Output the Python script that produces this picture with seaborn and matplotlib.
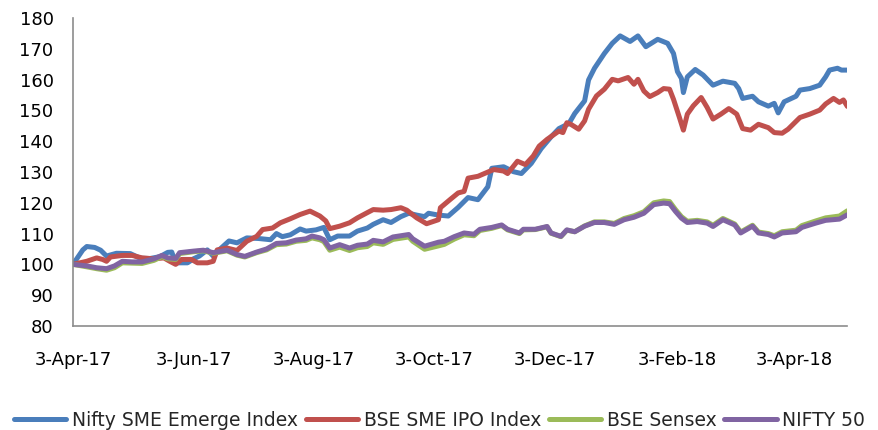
import pandas as pd
import seaborn as sns
import matplotlib.pyplot as plt
from matplotlib.lines import Line2D

series_names = ["Nifty SME Emerge Index", "BSE SME IPO Index", "BSE Sensex", "NIFTY 50"]
series_colors = ["#4A7EBB", "#C0504D", "#9BBB59", "#8064A2"]

tick_labels = ["3-Apr-17", "3-Jun-17", "3-Aug-17", "3-Oct-17", "3-Dec-17", "3-Feb-18", "3-Apr-18"]

sme_dates = ["3-Apr-17", "8-Apr-17", "10-Apr-17", "14-Apr-17", "17-Apr-17", "20-Apr-17", "25-Apr-17",
             "2-May-17", "7-May-17", "12-May-17", "17-May-17", "21-May-17", "23-May-17", "25-May-17",
             "31-May-17", "3-Jun-17", "6-Jun-17", "10-Jun-17", "13-Jun-17", "16-Jun-17", "21-Jun-17",
             "25-Jun-17", "30-Jun-17", "6-Jul-17", "12-Jul-17", "15-Jul-17", "18-Jul-17", "22-Jul-17",
             "27-Jul-17", "30-Jul-17", "4-Aug-17", "8-Aug-17", "11-Aug-17", "15-Aug-17", "21-Aug-17",
             "25-Aug-17", "30-Aug-17", "2-Sep-17", "7-Sep-17", "11-Sep-17", "16-Sep-17", "20-Sep-17",
             "24-Sep-17", "28-Sep-17", "30-Sep-17", "5-Oct-17", "10-Oct-17", "15-Oct-17", "20-Oct-17",
             "25-Oct-17", "30-Oct-17", "1-Nov-17", "7-Nov-17", "12-Nov-17", "16-Nov-17", "21-Nov-17",
             "26-Nov-17", "1-Dec-17", "5-Dec-17", "10-Dec-17", "13-Dec-17", "18-Dec-17", "20-Dec-17",
             "23-Dec-17", "28-Dec-17", "1-Jan-18", "5-Jan-18", "10-Jan-18", "14-Jan-18", "18-Jan-18",
             "24-Jan-18", "29-Jan-18", "1-Feb-18", "3-Feb-18", "5-Feb-18", "6-Feb-18", "8-Feb-18",
             "12-Feb-18", "16-Feb-18", "21-Feb-18", "26-Feb-18", "4-Mar-18", "6-Mar-18", "8-Mar-18",
             "13-Mar-18", "16-Mar-18", "21-Mar-18", "24-Mar-18", "26-Mar-18", "29-Mar-18", "4-Apr-18",
             "6-Apr-18", "11-Apr-18", "16-Apr-18", "19-Apr-18", "21-Apr-18", "25-Apr-18", "27-Apr-18",
             "30-Apr-18"]
sme_values = [100, 104.7, 105.8, 105.5, 104.6, 102.7, 103.6,
              103.5, 102.0, 101.9, 102.5, 103.9, 104.0, 100.5,
              100.5, 101.8, 102.7, 104.7, 102.7, 104.7, 107.6,
              107.0, 108.6, 108.4, 108.0, 110.0, 109.0, 109.6,
              111.5, 110.8, 111.2, 112.0, 108.0, 109.2, 109.2,
              110.8, 111.8, 113.0, 114.5, 113.6, 115.5, 116.6,
              116.0, 115.5, 116.6, 116.0, 115.7, 118.5, 121.7,
              121.0, 125.2, 131.2, 131.7, 130.1, 129.5, 132.8,
              137.6, 141.4, 144.1, 145.7, 149.0, 153.1, 159.9,
              163.7, 168.5, 171.8, 174.2, 172.4, 174.2, 170.7,
              173.1, 171.8, 168.5, 162.6, 160.4, 155.8, 160.9,
              163.3, 161.5, 158.2, 159.5, 158.8, 157.1, 153.9,
              154.6, 152.8, 151.4, 152.3, 149.2, 152.8, 154.6,
              156.6, 157.1, 158.2, 160.9, 163.1, 163.7, 163.1,
              163.1]

ipo_dates = ["3-Apr-17", "10-Apr-17", "15-Apr-17", "18-Apr-17", "20-Apr-17", "22-Apr-17", "28-Apr-17",
             "3-May-17", "8-May-17", "14-May-17", "19-May-17", "22-May-17", "25-May-17", "28-May-17",
             "2-Jun-17", "5-Jun-17", "10-Jun-17", "13-Jun-17", "15-Jun-17", "20-Jun-17", "25-Jun-17",
             "30-Jun-17", "5-Jul-17", "8-Jul-17", "13-Jul-17", "17-Jul-17", "22-Jul-17", "27-Jul-17",
             "1-Aug-17", "6-Aug-17", "9-Aug-17", "11-Aug-17", "16-Aug-17", "21-Aug-17", "25-Aug-17",
             "30-Aug-17", "2-Sep-17", "7-Sep-17", "11-Sep-17", "16-Sep-17", "19-Sep-17", "24-Sep-17",
             "29-Sep-17", "5-Oct-17", "6-Oct-17", "11-Oct-17", "15-Oct-17", "18-Oct-17", "20-Oct-17",
             "25-Oct-17", "29-Oct-17", "2-Nov-17", "7-Nov-17", "9-Nov-17", "14-Nov-17", "18-Nov-17",
             "22-Nov-17", "25-Nov-17", "29-Nov-17", "5-Dec-17", "7-Dec-17", "9-Dec-17", "11-Dec-17",
             "15-Dec-17", "18-Dec-17", "20-Dec-17", "24-Dec-17", "28-Dec-17", "1-Jan-18", "4-Jan-18",
             "9-Jan-18", "12-Jan-18", "14-Jan-18", "17-Jan-18", "20-Jan-18", "24-Jan-18", "27-Jan-18",
             "30-Jan-18", "1-Feb-18", "4-Feb-18", "6-Feb-18", "8-Feb-18", "11-Feb-18", "15-Feb-18",
             "18-Feb-18", "21-Feb-18", "25-Feb-18", "1-Mar-18", "5-Mar-18", "8-Mar-18", "12-Mar-18",
             "16-Mar-18", "21-Mar-18", "24-Mar-18", "28-Mar-18", "31-Mar-18", "6-Apr-18", "11-Apr-18",
             "16-Apr-18", "19-Apr-18", "23-Apr-18", "26-Apr-18", "28-Apr-18", "30-Apr-18"]
ipo_values = [100, 101.0, 102.1, 101.6, 101.0, 102.4, 102.9,
              102.9, 102.1, 101.8, 102.1, 101.0, 100.0, 101.6,
              101.6, 100.5, 100.5, 101.0, 104.7, 105.3, 104.5,
              107.5, 109.1, 111.3, 111.8, 113.5, 114.8, 116.2,
              117.3, 115.7, 114.1, 111.6, 112.4, 113.5, 115.1,
              116.8, 117.8, 117.6, 117.8, 118.4, 117.6, 115.1,
              113.2, 114.5, 118.4, 121.1, 123.2, 123.7, 128.0,
              128.6, 129.7, 130.8, 130.3, 129.5, 133.5, 132.4,
              135.2, 138.4, 140.6, 143.3, 142.8, 146.0, 145.5,
              143.9, 146.6, 150.4, 154.7, 156.9, 160.1, 159.6,
              160.7, 158.5, 160.1, 156.3, 154.5, 155.8, 157.1,
              156.9, 153.6, 147.7, 143.6, 148.8, 151.5, 154.2,
              151.0, 147.2, 148.8, 150.6, 148.8, 144.1, 143.6,
              145.5, 144.4, 142.8, 142.6, 143.9, 147.7, 148.8,
              150.1, 152.1, 153.9, 152.6, 153.4, 151.3]

# Sensex and Nifty 50 are read on the same dates
large_dates = ["3-Apr-17", "10-Apr-17", "15-Apr-17", "20-Apr-17", "24-Apr-17", "28-Apr-17", "3-May-17",
               "8-May-17", "14-May-17", "18-May-17", "21-May-17", "25-May-17", "27-May-17", "3-Jun-17",
               "8-Jun-17", "13-Jun-17", "20-Jun-17", "25-Jun-17", "29-Jun-17", "5-Jul-17", "10-Jul-17",
               "15-Jul-17", "20-Jul-17", "25-Jul-17", "30-Jul-17", "2-Aug-17", "6-Aug-17", "8-Aug-17",
               "11-Aug-17", "16-Aug-17", "21-Aug-17", "25-Aug-17", "30-Aug-17", "2-Sep-17", "7-Sep-17",
               "12-Sep-17", "20-Sep-17", "22-Sep-17", "28-Sep-17", "5-Oct-17", "8-Oct-17", "13-Oct-17",
               "18-Oct-17", "23-Oct-17", "26-Oct-17", "1-Nov-17", "6-Nov-17", "9-Nov-17", "15-Nov-17",
               "17-Nov-17", "23-Nov-17", "29-Nov-17", "1-Dec-17", "6-Dec-17", "9-Dec-17", "13-Dec-17",
               "18-Dec-17", "23-Dec-17", "28-Dec-17", "2-Jan-18", "7-Jan-18", "12-Jan-18", "17-Jan-18",
               "22-Jan-18", "27-Jan-18", "30-Jan-18", "2-Feb-18", "5-Feb-18", "8-Feb-18", "13-Feb-18",
               "18-Feb-18", "21-Feb-18", "26-Feb-18", "4-Mar-18", "7-Mar-18", "13-Mar-18", "16-Mar-18",
               "21-Mar-18", "24-Mar-18", "28-Mar-18", "4-Apr-18", "7-Apr-18", "14-Apr-18", "19-Apr-18",
               "26-Apr-18", "30-Apr-18"]
sensex_values = [100, 99.2, 98.6, 98.1, 98.9, 100.5, 100.4,
                 100.3, 101.3, 102.5, 101.8, 101.6, 103.5, 104.1,
                 104.4, 103.6, 104.4, 103.0, 102.4, 103.8, 104.7,
                 106.4, 106.6, 107.5, 107.8, 108.6, 108.0, 107.4,
                 104.6, 105.6, 104.5, 105.4, 105.8, 107.0, 106.5,
                 108.1, 108.9, 107.5, 104.9, 106.0, 106.5, 108.2,
                 109.6, 109.3, 111.0, 111.7, 112.6, 111.2, 110.0,
                 111.2, 111.3, 112.2, 110.1, 109.0, 111.1, 110.6,
                 112.5, 113.8, 113.8, 113.3, 114.9, 115.8, 117.1,
                 120.0, 120.6, 120.4, 117.8, 115.5, 114.0, 114.3,
                 113.8, 112.7, 114.9, 113.1, 110.5, 112.7, 110.5,
                 110.0, 109.3, 110.6, 111.1, 112.6, 114.1, 115.1,
                 115.7, 117.4]
nifty_values = [100, 99.5, 98.9, 98.6, 99.5, 101.0, 100.8,
                100.8, 101.8, 102.9, 102.1, 101.9, 103.8, 104.3,
                104.6, 103.8, 104.6, 103.2, 102.6, 104.0, 105.0,
                106.8, 107.0, 107.9, 108.3, 109.2, 108.6, 108.0,
                105.3, 106.4, 105.3, 106.2, 106.6, 107.8, 107.3,
                108.9, 109.7, 108.3, 105.9, 107.2, 107.5, 109.0,
                110.2, 109.8, 111.4, 112.0, 112.8, 111.4, 110.2,
                111.4, 111.4, 112.3, 110.2, 109.1, 111.2, 110.6,
                112.4, 113.6, 113.6, 113.0, 114.5, 115.3, 116.6,
                119.4, 119.9, 119.7, 117.2, 115.0, 113.6, 113.9,
                113.4, 112.3, 114.5, 112.8, 110.2, 112.4, 110.2,
                109.7, 108.9, 110.2, 110.6, 112.0, 113.4, 114.3,
                114.7, 116.1]


def build_frame():
    parts = [
        (series_names[0], sme_dates, sme_values),
        (series_names[1], ipo_dates, ipo_values),
        (series_names[2], large_dates, sensex_values),
        (series_names[3], large_dates, nifty_values),
    ]
    frames = []
    for name, dates, values in parts:
        frames.append(pd.DataFrame({
            "date": pd.to_datetime(dates, format="%d-%b-%y"),
            "value": values,
            "series": name,
        }))
    return pd.concat(frames, ignore_index=True)


df = build_frame()

sns.set_theme(style="white")
plt.rcParams["font.family"] = ["DejaVu Sans"]

fig = plt.figure(figsize=(8.79, 4.30), dpi=100)
ax = fig.add_axes([0.083, 0.242, 0.881, 0.716])

line_w = 3.6
sns.lineplot(data=df, x="date", y="value", hue="series", hue_order=series_names,
             palette=series_colors, linewidth=line_w, legend=False, ax=ax,
             solid_joinstyle="round", solid_capstyle="round")

axis_grey = "#8C8C8C"
ax.set_ylim(80, 180)
ax.set_yticks(range(80, 181, 10))
ax.set_xlim(df["date"].min(), df["date"].max())
ax.set_xticks(pd.to_datetime(tick_labels, format="%d-%b-%y"))
ax.set_xticklabels(tick_labels)
ax.set_xlabel("")
ax.set_ylabel("")

for side in ["top", "right"]:
    ax.spines[side].set_visible(False)
for side in ["left", "bottom"]:
    ax.spines[side].set_color(axis_grey)
    ax.spines[side].set_linewidth(1.2)

ax.tick_params(axis="both", direction="out", length=6, width=1.2, color=axis_grey,
               labelsize=13, labelcolor="black")
ax.tick_params(axis="x", pad=12)
ax.tick_params(axis="y", pad=8)

handles = [Line2D([0], [0], color=c, linewidth=line_w, solid_capstyle="round") for c in series_colors]
fig.legend(handles, series_names, loc="center", bbox_to_anchor=(0.5, 0.022), ncol=4,
           frameon=False, fontsize=13.5, handlelength=2.8, handletextpad=0.3, columnspacing=0.4)

fig.savefig("out.png", dpi=100, facecolor="white")
